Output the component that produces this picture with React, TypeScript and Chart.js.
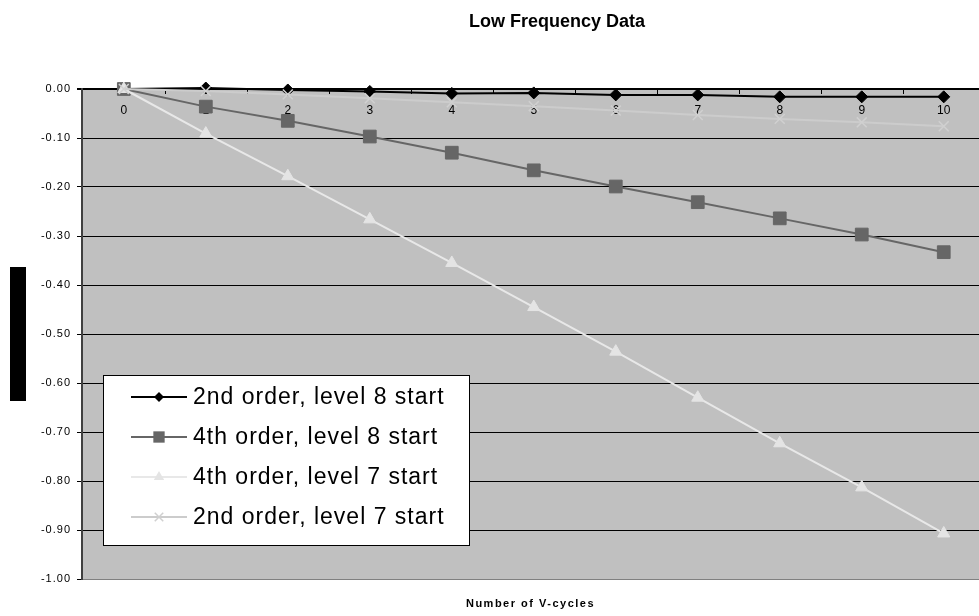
import React, { useEffect, useRef } from "react";
import { Chart, registerables } from "chart.js";

Chart.register(...registerables);

const cycles = [0, 1, 2, 3, 4, 5, 6, 7, 8, 9, 10];
const order2Level8 = [0, 0.002, -0.002, -0.005, -0.009, -0.008, -0.012, -0.012, -0.016, -0.016, -0.016];
const order4Level8 = [0, -0.036, -0.065, -0.097, -0.13, -0.166, -0.199, -0.231, -0.264, -0.297, -0.333];
const order4Level7 = [0, -0.091, -0.178, -0.266, -0.355, -0.445, -0.536, -0.63, -0.723, -0.813, -0.907];
const order2Level7 = [0, -0.004, -0.011, -0.019, -0.027, -0.035, -0.044, -0.053, -0.061, -0.068, -0.076];
const seriesNames = [
  "2nd order, level 8 start",
  "4th order, level 8 start",
  "4th order, level 7 start",
  "2nd order, level 7 start",
];
const chartTitle = "Low Frequency Data";
const xTitle = "Number of V-cycles";
const yTitle = "Error";

const FONT = "Arial, 'Liberation Sans', sans-serif";

const styles = [
  { color: "#000000", point: "rectRot", radius: 6, pointColor: "#000000", width: 2 },
  { color: "#666666", point: "rect", radius: 9, pointColor: "#666666", width: 2 },
  { color: "#e8e8e8", point: "triangle", radius: 7, pointColor: "#e4e4e4", width: 2 },
  { color: "#cccccc", point: "crossRot", radius: 7, pointColor: "#d0d0d0", width: 2 },
];

const seriesValues = [order2Level8, order4Level8, order4Level7, order2Level7];

function setSpacing(ctx: any, v: string) {
  try { ctx.letterSpacing = v; } catch (e) {}
}

function drawMarker(ctx: CanvasRenderingContext2D, kind: string, x: number, y: number, r: number, color: string) {
  ctx.save();
  ctx.fillStyle = color;
  ctx.strokeStyle = color;
  ctx.beginPath();
  if (kind === "rectRot") {
    ctx.moveTo(x - r, y);
    ctx.lineTo(x, y - r);
    ctx.lineTo(x + r, y);
    ctx.lineTo(x, y + r);
    ctx.closePath();
    ctx.fill();
  } else if (kind === "rect") {
    const s = r * Math.SQRT1_2;
    ctx.fillRect(x - s, y - s, 2 * s, 2 * s);
  } else if (kind === "triangle") {
    const w = r * Math.sqrt(3) / 2;
    ctx.moveTo(x, y - r);
    ctx.lineTo(x + w, y + r / 2);
    ctx.lineTo(x - w, y + r / 2);
    ctx.closePath();
    ctx.fill();
  } else {
    const s = r * Math.SQRT1_2;
    ctx.lineWidth = 1.5;
    ctx.moveTo(x - s, y - s);
    ctx.lineTo(x + s, y + s);
    ctx.moveTo(x + s, y - s);
    ctx.lineTo(x - s, y + s);
    ctx.stroke();
  }
  ctx.restore();
}

const decorPlugin = {
  id: "decor",
  beforeDraw(chart: any) {
    const { ctx, chartArea } = chart;
    ctx.save();
    ctx.fillStyle = "#c0c0c0";
    ctx.fillRect(chartArea.left, chartArea.top, chartArea.right - chartArea.left, chartArea.bottom - chartArea.top);
    ctx.restore();
    setSpacing(ctx, "1px");
  },
  beforeDatasetsDraw(chart: any) {
    const { ctx, chartArea } = chart;
    const xs = chart.scales.x;
    ctx.save();
    setSpacing(ctx, "0px");
    ctx.strokeStyle = "#000000";
    ctx.lineWidth = 1;
    for (let i = 0; i < cycles.length - 1; i++) {
      const px = Math.round(xs.getPixelForValue(cycles[i] + 0.5)) + 0.5;
      ctx.beginPath();
      ctx.moveTo(px, chartArea.top);
      ctx.lineTo(px, chartArea.top + 5);
      ctx.stroke();
    }
    ctx.fillStyle = "#000000";
    ctx.font = "12px " + FONT;
    ctx.textAlign = "center";
    ctx.textBaseline = "middle";
    cycles.forEach((c) => {
      ctx.fillText(String(c), xs.getPixelForValue(c), chartArea.top + 22);
    });
    ctx.restore();
  },
  afterDraw(chart: any) {
    const { ctx, chartArea } = chart;
    ctx.save();
    setSpacing(ctx, "0px");
    ctx.fillStyle = "#000000";
    ctx.font = "bold 18px " + FONT;
    ctx.textAlign = "center";
    ctx.textBaseline = "middle";
    ctx.fillText(chartTitle, 557, 22);
    ctx.font = "bold 11px " + FONT;
    setSpacing(ctx, "1.5px");
    ctx.fillText(xTitle, (chartArea.left + chartArea.right) / 2, 604);
    setSpacing(ctx, "0px");
    ctx.fillStyle = "#000000";
    ctx.fillRect(10, 267, 16, 134);
    ctx.save();
    ctx.translate(18, 334);
    ctx.rotate(-Math.PI / 2);
    ctx.font = "bold 12px " + FONT;
    ctx.fillText(yTitle, 0, 0);
    ctx.restore();

    const lx = chartArea.left + 21;
    const ly = 375;
    const lw = 366;
    const lh = 170;
    ctx.fillStyle = "#ffffff";
    ctx.fillRect(lx, ly, lw, lh);
    ctx.strokeStyle = "#000000";
    ctx.lineWidth = 1;
    ctx.strokeRect(lx + 0.5, ly + 0.5, lw, lh);
    seriesNames.forEach((name, i) => {
      const st = styles[i];
      const cy = ly + 22 + i * 40;
      ctx.strokeStyle = st.color;
      ctx.lineWidth = st.width;
      ctx.beginPath();
      ctx.moveTo(lx + 28, cy);
      ctx.lineTo(lx + 84, cy);
      ctx.stroke();
      const r = st.point === "rect" ? 8 : st.point === "rectRot" ? 5 : 6;
      drawMarker(ctx, st.point, lx + 56, cy, r, st.pointColor);
      ctx.fillStyle = "#000000";
      ctx.font = "23px " + FONT;
      setSpacing(ctx, "1px");
      ctx.textAlign = "left";
      ctx.textBaseline = "middle";
      ctx.fillText(name, lx + 90, cy + 1);
      setSpacing(ctx, "0px");
    });
    ctx.restore();
  },
};

export default function App() {
  const ref = useRef<HTMLCanvasElement | null>(null);
  useEffect(() => {
    if (!ref.current) return;
    const chart = new Chart(ref.current, {
      type: "line",
      data: {
        datasets: seriesNames.map((name, i) => ({
          label: name,
          data: cycles.map((c, j) => ({ x: c, y: seriesValues[i][j] })),
          borderColor: styles[i].color,
          backgroundColor: styles[i].pointColor,
          borderWidth: styles[i].width,
          pointStyle: styles[i].point as any,
          pointRadius: styles[i].radius,
          pointBackgroundColor: styles[i].pointColor,
          pointBorderColor: styles[i].pointColor,
          pointBorderWidth: styles[i].point === "crossRot" ? 1.5 : 1,
          tension: 0,
          order: seriesNames.length - i,
          clip: false as any,
        })),
      },
      options: {
        animation: false,
        responsive: false,
        maintainAspectRatio: false,
        layout: { autoPadding: false, padding: { top: 89, bottom: 37, left: 0, right: 0 } },
        plugins: { legend: { display: false }, tooltip: { enabled: false }, title: { display: false } },
        scales: {
          x: {
            type: "linear",
            min: -0.51,
            max: 10.43,
            display: false,
          },
          y: {
            type: "linear",
            min: -1,
            max: 0,
            afterFit: (s: any) => {
              s.width = 82;
            },
            ticks: {
              stepSize: 0.1,
              color: "#000000",
              font: { family: FONT, size: 11 },
              padding: 6,
              callback: (v: any) => Number(v).toFixed(2),
            },
            grid: {
              color: (c: any) => (c.tick && c.tick.value <= -0.999 ? "#808080" : "#000000"),
              lineWidth: (c: any) => (c.tick && Math.abs(c.tick.value) < 1e-9 ? 2 : 1),
              tickLength: 5,
              tickColor: "#000000",
            },
            border: { display: true, color: "#404040", width: 2 },
          },
        },
      },
      plugins: [decorPlugin],
    });
    return () => chart.destroy();
  }, []);
  return (
    <div style={{ position: "fixed", left: 0, top: 0, width: 979, height: 616, background: "#ffffff" }}>
      <canvas ref={ref} width={979} height={616} style={{ width: 979, height: 616, display: "block" }} />
    </div>
  );
}
